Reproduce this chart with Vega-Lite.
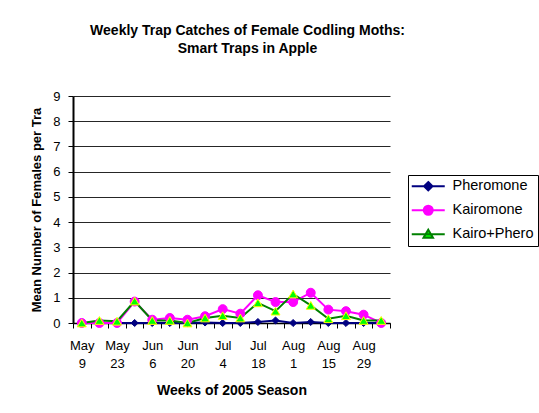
{
  "$schema": "https://vega.github.io/schema/vega-lite/v6.json",
  "width": 317,
  "height": 227,
  "autosize": {"type": "none"},
  "padding": {"left": 73, "top": 96, "right": 149, "bottom": 90},
  "background": "white",
  "title": {
    "text": ["Weekly Trap Catches of Female Codling Moths:", "Smart Traps in Apple"],
    "font": "Liberation Sans",
    "fontSize": 14,
    "fontWeight": "bold",
    "color": "black",
    "anchor": "middle",
    "frame": "group",
    "baseline": "bottom",
    "dx": 16,
    "offset": 20,
    "lineHeight": 18
  },
  "config": {
    "view": {"stroke": null},
    "font": "Liberation Sans"
  },
  "data": {
    "values": [
      {"week": "May 9", "series": "Pheromone", "value": 0},
      {"week": "May 16", "series": "Pheromone", "value": 0},
      {"week": "May 23", "series": "Pheromone", "value": 0},
      {"week": "May 30", "series": "Pheromone", "value": 0},
      {"week": "Jun 6", "series": "Pheromone", "value": 0},
      {"week": "Jun 13", "series": "Pheromone", "value": 0},
      {"week": "Jun 20", "series": "Pheromone", "value": 0},
      {"week": "Jun 27", "series": "Pheromone", "value": 0.02},
      {"week": "Jul 4", "series": "Pheromone", "value": 0},
      {"week": "Jul 11", "series": "Pheromone", "value": 0},
      {"week": "Jul 18", "series": "Pheromone", "value": 0.04},
      {"week": "Jul 25", "series": "Pheromone", "value": 0.1},
      {"week": "Aug 1", "series": "Pheromone", "value": 0},
      {"week": "Aug 8", "series": "Pheromone", "value": 0.04},
      {"week": "Aug 15", "series": "Pheromone", "value": 0},
      {"week": "Aug 22", "series": "Pheromone", "value": 0},
      {"week": "Aug 29", "series": "Pheromone", "value": 0},
      {"week": "Sep 5", "series": "Pheromone", "value": 0},
      {"week": "May 9", "series": "Kairomone", "value": 0},
      {"week": "May 16", "series": "Kairomone", "value": 0},
      {"week": "May 23", "series": "Kairomone", "value": 0},
      {"week": "May 30", "series": "Kairomone", "value": 0.85},
      {"week": "Jun 6", "series": "Kairomone", "value": 0.13},
      {"week": "Jun 13", "series": "Kairomone", "value": 0.2},
      {"week": "Jun 20", "series": "Kairomone", "value": 0.13},
      {"week": "Jun 27", "series": "Kairomone", "value": 0.27},
      {"week": "Jul 4", "series": "Kairomone", "value": 0.55},
      {"week": "Jul 11", "series": "Kairomone", "value": 0.37},
      {"week": "Jul 18", "series": "Kairomone", "value": 1.1},
      {"week": "Jul 25", "series": "Kairomone", "value": 0.83},
      {"week": "Aug 1", "series": "Kairomone", "value": 0.83},
      {"week": "Aug 8", "series": "Kairomone", "value": 1.2},
      {"week": "Aug 15", "series": "Kairomone", "value": 0.53},
      {"week": "Aug 22", "series": "Kairomone", "value": 0.47},
      {"week": "Aug 29", "series": "Kairomone", "value": 0.33},
      {"week": "Sep 5", "series": "Kairomone", "value": 0},
      {"week": "May 9", "series": "Kairo+Phero", "value": 0},
      {"week": "May 16", "series": "Kairo+Phero", "value": 0.1},
      {"week": "May 23", "series": "Kairo+Phero", "value": 0.07},
      {"week": "May 30", "series": "Kairo+Phero", "value": 0.87},
      {"week": "Jun 6", "series": "Kairo+Phero", "value": 0.1},
      {"week": "Jun 13", "series": "Kairo+Phero", "value": 0.1},
      {"week": "Jun 20", "series": "Kairo+Phero", "value": 0},
      {"week": "Jun 27", "series": "Kairo+Phero", "value": 0.2},
      {"week": "Jul 4", "series": "Kairo+Phero", "value": 0.29},
      {"week": "Jul 11", "series": "Kairo+Phero", "value": 0.2},
      {"week": "Jul 18", "series": "Kairo+Phero", "value": 0.8},
      {"week": "Jul 25", "series": "Kairo+Phero", "value": 0.47},
      {"week": "Aug 1", "series": "Kairo+Phero", "value": 1.15},
      {"week": "Aug 8", "series": "Kairo+Phero", "value": 0.7},
      {"week": "Aug 15", "series": "Kairo+Phero", "value": 0.17},
      {"week": "Aug 22", "series": "Kairo+Phero", "value": 0.29},
      {"week": "Aug 29", "series": "Kairo+Phero", "value": 0.1},
      {"week": "Sep 5", "series": "Kairo+Phero", "value": 0.1}
    ]
  },
  "encoding": {
    "x": {
      "field": "week",
      "type": "ordinal",
      "sort": ["May 9", "May 16", "May 23", "May 30", "Jun 6", "Jun 13", "Jun 20", "Jun 27", "Jul 4", "Jul 11", "Jul 18", "Jul 25", "Aug 1", "Aug 8", "Aug 15", "Aug 22", "Aug 29", "Sep 5"],
      "scale": {"type": "band", "paddingInner": 0, "paddingOuter": 0},
      "axis": {
        "title": "Weeks of 2005 Season",
        "titleFont": "Liberation Sans",
        "titleFontSize": 14,
        "titleFontWeight": "bold",
        "titleColor": "black",
        "titlePadding": 13,
        "labelAngle": 0,
        "labelExpr": "indexof(['May 9','May 23','Jun 6','Jun 20','Jul 4','Jul 18','Aug 1','Aug 15','Aug 29'], datum.value) >= 0 ? split(datum.value, ' ') : ''",
        "labelOverlap": false,
        "labelFont": "Liberation Sans",
        "labelFontSize": 13,
        "labelColor": "black",
        "labelLineHeight": 18,
        "labelPadding": 11,
        "tickBand": "extent",
        "tickSize": 5,
        "tickColor": "black",
        "domainColor": "black",
        "domainWidth": 1.5,
        "grid": false
      }
    },
    "y": {
      "field": "value",
      "type": "quantitative",
      "scale": {"domain": [0, 9], "nice": false},
      "axis": {
        "title": "Mean Number of Females per Tra",
        "titleFont": "Liberation Sans",
        "titleFontSize": 13,
        "titleFontWeight": "bold",
        "titleColor": "black",
        "titlePadding": 9,
        "values": [0, 1, 2, 3, 4, 5, 6, 7, 8, 9],
        "labelFont": "Liberation Sans",
        "labelFontSize": 13,
        "labelColor": "black",
        "labelPadding": 8,
        "tickSize": 5,
        "tickColor": "black",
        "domainColor": "black",
        "domainWidth": 2,
        "grid": true,
        "gridColor": "black",
        "gridWidth": 1,
        "gridOpacity": 0.85
      }
    }
  },
  "layer": [
    {
      "mark": {"type": "line", "strokeWidth": 2},
      "encoding": {
        "color": {
          "field": "series",
          "type": "nominal",
          "scale": {"domain": ["Pheromone", "Kairomone", "Kairo+Phero"], "range": ["#000080", "#ff00ff", "#008000"]},
          "legend": {
            "title": null,
            "orient": "none",
            "legendX": 335,
            "legendY": 79,
            "direction": "vertical",
            "fillColor": "white",
            "strokeColor": "black",
            "padding": 4,
            "rowPadding": 6,
            "labelFont": "Liberation Sans",
            "labelFontSize": 14.5,
            "labelColor": "black",
            "symbolSize": 100,
            "symbolStrokeWidth": 2,
            "symbolOffset": 9,
            "labelOffset": 17,
            "encode": {
              "symbols": {
                "update": {
                  "shape": {"signal": "datum.value === 'Pheromone' ? 'M-3.3,0H3.3M0,-0.84L0.84,0L0,0.84L-0.84,0Z' : datum.value === 'Kairomone' ? 'M-3.3,0H3.3M0.9,0A0.9,0.9,0,1,1,-0.9,0A0.9,0.9,0,1,1,0.9,0Z' : 'M-3.3,0H3.3M0,-0.9L0.95,0.7L-0.95,0.7Z'"},
                  "fill": {"signal": "datum.value === 'Pheromone' ? '#000080' : datum.value === 'Kairomone' ? '#ff00ff' : '#00ff00'"},
                  "opacity": {"value": 1},
                  "fillOpacity": {"value": 1}
                }
              }
            }
          }
        }
      }
    },
    {
      "transform": [{"filter": "datum.series === 'Pheromone'"}],
      "mark": {"type": "point", "shape": "diamond", "filled": true, "fill": "#000080", "stroke": "#000080", "strokeWidth": 1, "size": 50, "opacity": 1}
    },
    {
      "transform": [{"filter": "datum.series === 'Kairomone'"}],
      "mark": {"type": "point", "shape": "circle", "filled": true, "fill": "#ff00ff", "stroke": "#ff00ff", "strokeWidth": 1, "size": 80, "opacity": 1}
    },
    {
      "transform": [{"filter": "datum.series === 'Kairo+Phero'"}],
      "mark": {"type": "point", "shape": "triangle-up", "filled": true, "fill": "#00ff00", "stroke": "#ffff00", "strokeWidth": 1, "size": 80, "opacity": 1}
    }
  ]
}
